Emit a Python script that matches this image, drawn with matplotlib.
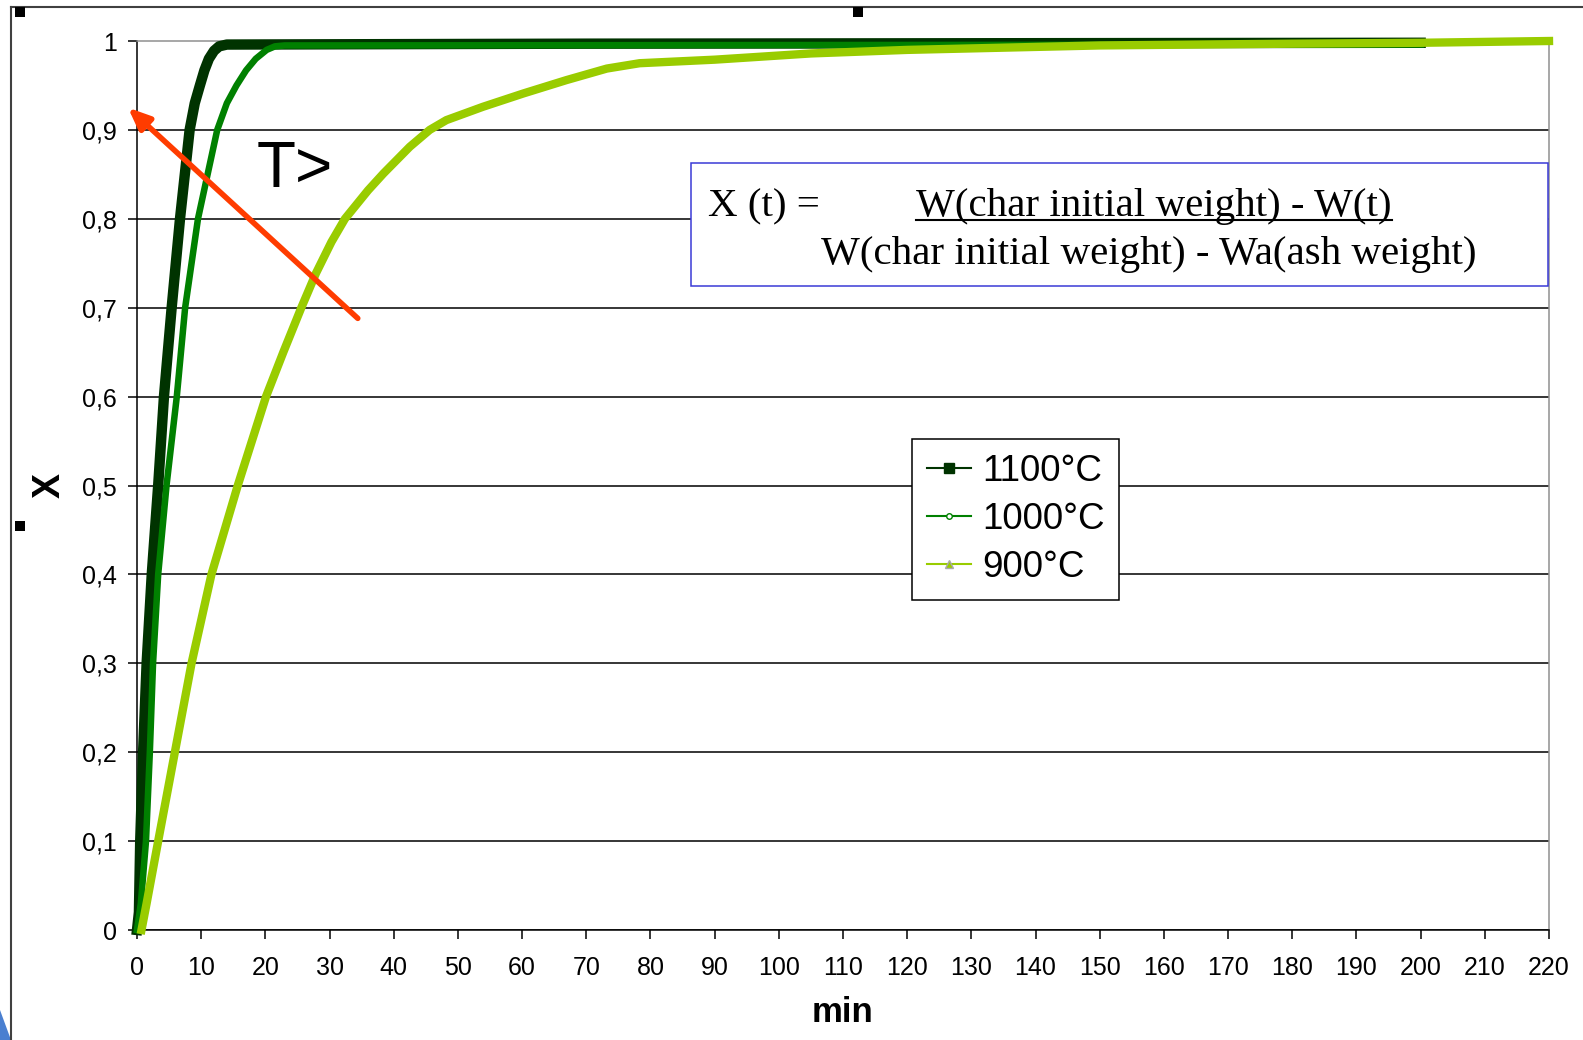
import matplotlib
matplotlib.use("Agg")
import matplotlib.pyplot as plt
from matplotlib.lines import Line2D
from matplotlib.patches import Rectangle, Polygon

W, H = 1583, 1040

# conversion curves (time in min, conversion X)
t_1100 = [0, 0.3, 0.5, 0.95, 1.5, 2.3, 3.3, 4.2, 5.4, 6.7, 8.2, 9.0, 9.8, 10.5, 11.2, 12.0,
          12.8, 14, 70, 200]
x_1100 = [0.0, 0.02, 0.1, 0.2, 0.3, 0.4, 0.5, 0.6, 0.7, 0.8, 0.9, 0.93, 0.95, 0.967, 0.98,
          0.989, 0.994, 0.996, 0.997, 0.998]

t_1000 = [0, 0.6, 1.4, 2.0, 2.5, 3.3, 4.6, 6.2, 7.5, 9.5, 11.0, 12.5, 14.0, 15.5, 17.0, 18.5,
          20.2, 21.5, 23, 200]
x_1000 = [0.0, 0.03, 0.1, 0.2, 0.3, 0.4, 0.5, 0.6, 0.7, 0.8, 0.85, 0.9, 0.93, 0.95, 0.967, 0.98,
          0.99, 0.994, 0.995, 0.996]

t_900 = [0.7, 1.5, 3.3, 5.9, 8.5, 11.6, 15.7, 20.1, 22.8, 25.6, 27.9, 30.3, 32.4, 36.0, 38.4,
         42.5, 45.6, 48.2, 53.9, 60.2, 66.9, 73.2, 78.3, 90, 105, 120, 150, 180, 200, 220]
x_900 = [0.0, 0.03, 0.1, 0.2, 0.3, 0.4, 0.5, 0.6, 0.65, 0.7, 0.739, 0.774, 0.8, 0.832, 0.851,
         0.881, 0.9, 0.911, 0.926, 0.941, 0.956, 0.969, 0.975, 0.979, 0.986, 0.99, 0.995,
         0.997, 0.998, 1.0]

labels = ["1100°C", "1000°C", "900°C"]
colors = ["#003300", "#008000", "#99cc00"]

xticks = list(range(0, 230, 10))
yticks = [0, 0.1, 0.2, 0.3, 0.4, 0.5, 0.6, 0.7, 0.8, 0.9, 1.0]
ytick_labels = ["0", "0,1", "0,2", "0,3", "0,4", "0,5", "0,6", "0,7", "0,8", "0,9", "1"]


def fx(x):
    return x / W


def fy(y):
    return 1 - y / H


plt.rcParams["font.family"] = ["Liberation Sans", "DejaVu Sans"]

fig = plt.figure(figsize=(W / 100, H / 100), dpi=100)
fig.patch.set_facecolor("white")
ax = fig.add_axes([fx(137), fy(930), (1549 - 137) / W, (930 - 41) / H])

ax.plot(t_1100, x_1100, color=colors[0], lw=7.5, clip_on=False, zorder=3,
        solid_joinstyle="round")
ax.plot(t_1000, x_1000, color=colors[1], lw=4.7, clip_on=False, zorder=3,
        solid_joinstyle="round")
ax.plot(t_900, x_900, color=colors[2], lw=6, clip_on=False, zorder=3,
        solid_joinstyle="round")

ax.set_xlim(0, 220)
ax.set_ylim(0, 1)
ax.set_xticks(xticks)
ax.set_xticklabels([str(v) for v in xticks])
ax.set_yticks(yticks)
ax.set_yticklabels(ytick_labels)
ax.tick_params(axis="both", labelsize=18, direction="out", length=6.5, width=1.1, color="black")
ax.tick_params(axis="y", pad=8)
ax.tick_params(axis="x", pad=12)

ax.yaxis.grid(True, color="black", lw=1.1)
ax.yaxis.get_gridlines()[-1].set_visible(False)
ax.set_axisbelow(True)
for side in ["left", "bottom"]:
    ax.spines[side].set_color("black")
    ax.spines[side].set_linewidth(1.1)
for side in ["top", "right"]:
    ax.spines[side].set_color("#909090")
    ax.spines[side].set_linewidth(1.1)

fig.text(fx(843), fy(1013), "min", fontsize=25, fontweight="bold", ha="center", va="center")
fig.text(fx(50), fy(485), "X", fontsize=27, fontweight="bold", ha="center", va="center",
         rotation=90)

# legend
handles = [
    Line2D([], [], color=colors[0], lw=1.5, marker="s", ms=7),
    Line2D([], [], color=colors[1], lw=1.5, marker="o", ms=4, mfc="white", mec=colors[1]),
    Line2D([], [], color=colors[2], lw=1.5, marker="^", ms=6, mfc=colors[2], mec="#aaaaaa"),
]
leg = ax.legend(handles, labels, loc="upper left", bbox_to_anchor=(fx(912), fy(439)),
                bbox_transform=fig.transFigure, borderaxespad=0, fontsize=26.5,
                handlelength=1.2, handletextpad=0.3, labelspacing=0.36, borderpad=0.4,
                fancybox=False, framealpha=1, edgecolor="black")
leg.get_frame().set_linewidth(1.1)

# temperature arrow
ax.annotate("", xy=(-1.4, 0.925), xytext=(34.4, 0.688),
            arrowprops=dict(arrowstyle="-|>,head_length=1.3,head_width=0.55",
                            color="#ff3c00", lw=4, shrinkA=0, shrinkB=0),
            annotation_clip=False, zorder=6)
fig.text(fx(257), fy(187), "T>", fontsize=46, ha="left", va="baseline")

# formula box
fig.add_artist(Rectangle((fx(691), fy(286)), (1548 - 691) / W, (286 - 163) / H,
                         transform=fig.transFigure, facecolor="white",
                         edgecolor="#3a3ad6", lw=1.1, zorder=4))
serif = ["Liberation Serif", "DejaVu Serif"]
fig.text(fx(708), fy(216), "X (t) =", fontsize=29.5, family=serif, va="baseline", zorder=5)
num = fig.text(fx(916), fy(216), "W(char initial weight) - W(t)", fontsize=29.5,
               family=serif, va="baseline", zorder=5)
fig.text(fx(821), fy(264), "W(char initial weight) - Wa(ash weight)", fontsize=29.5,
         family=serif, va="baseline", zorder=5)
fig.canvas.draw()
bb = num.get_window_extent().transformed(fig.transFigure.inverted())
fig.add_artist(Line2D([bb.x0, bb.x1], [fy(220), fy(220)], transform=fig.transFigure,
                      color="black", lw=1.5, zorder=5))

# outer chart frame and selection handles
fig.add_artist(Line2D([fx(11), fx(11)], [fy(7), 0], transform=fig.transFigure,
                      color="#404040", lw=1.5))
fig.add_artist(Line2D([fx(11), 1], [fy(7), fy(7)], transform=fig.transFigure,
                      color="#404040", lw=1.5))
for hx, hy in [(15, 7), (853, 7), (15, 521)]:
    fig.add_artist(Rectangle((fx(hx), fy(hy + 10)), 10 / W, 10 / H, transform=fig.transFigure,
                             facecolor="black", edgecolor="none", zorder=6))
fig.add_artist(Polygon([(0, 0), (0, fy(1010)), (fx(11), 0)], closed=True,
                       transform=fig.transFigure, facecolor="#4a7fd0", edgecolor="none"))

fig.savefig("out.png", dpi=100)
